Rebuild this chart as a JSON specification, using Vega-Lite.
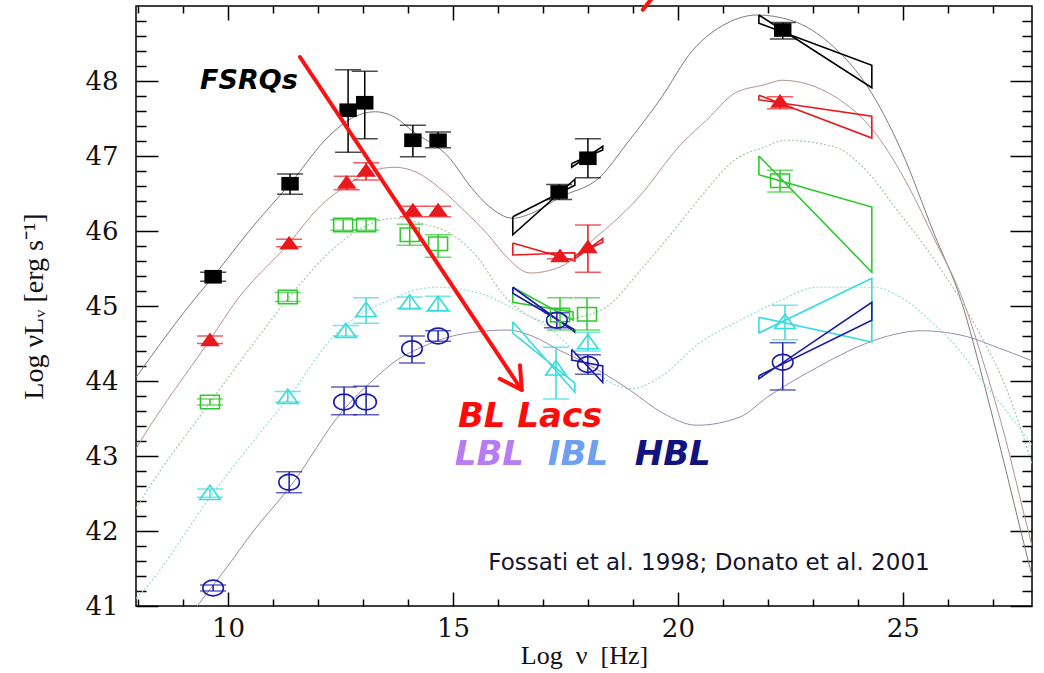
{
  "$schema": "https://vega.github.io/schema/vega-lite/v6.json",
  "width": 896,
  "height": 600,
  "autosize": {"type": "none"},
  "padding": {"left": 136, "top": 6, "right": 12, "bottom": 67},
  "background": "white",
  "config": {
    "view": {"stroke": "#000000", "strokeWidth": 1.5},
    "axis": {"grid": false, "domain": false, "tickColor": "#000000", "tickWidth": 1.5, "labelColor": "#111111", "titleColor": "#111111", "labelFont": "DejaVu Serif", "labelFontSize": 26, "titleFont": "Liberation Serif", "titleFontSize": 26, "titleFontWeight": "normal"}
  },
  "datasets": {
    "curves": [
      {"s":"bin1","x":7.96,"y":44.05},{"s":"bin1","x":8.5,"y":44.5},{"s":"bin1","x":9.24,"y":45.08},{"s":"bin1","x":9.67,"y":45.39},{"s":"bin1","x":10.5,"y":46.02},{"s":"bin1","x":11.38,"y":46.63},{"s":"bin1","x":12.27,"y":47.28},{"s":"bin1","x":12.8,"y":47.52},{"s":"bin1","x":13.27,"y":47.59},{"s":"bin1","x":13.7,"y":47.52},{"s":"bin1","x":14.11,"y":47.33},{"s":"bin1","x":14.93,"y":46.97},{"s":"bin1","x":15.38,"y":46.6},{"s":"bin1","x":15.8,"y":46.33},{"s":"bin1","x":16.33,"y":46.17},{"s":"bin1","x":16.8,"y":46.25},{"s":"bin1","x":17.38,"y":46.45},{"s":"bin1","x":18.27,"y":46.72},{"s":"bin1","x":18.87,"y":47.17},{"s":"bin1","x":19.6,"y":47.75},{"s":"bin1","x":20.33,"y":48.41},{"s":"bin1","x":21.09,"y":48.77},{"s":"bin1","x":21.76,"y":48.88},{"s":"bin1","x":22.51,"y":48.81},{"s":"bin1","x":23.47,"y":48.45},{"s":"bin1","x":24.22,"y":47.92},{"s":"bin1","x":24.96,"y":47.08},{"s":"bin1","x":25.69,"y":45.97},{"s":"bin1","x":26.29,"y":45.08},{"s":"bin1","x":26.84,"y":43.88},{"s":"bin1","x":27.29,"y":42.81},{"s":"bin1","x":27.67,"y":41.88},{"s":"bin1","x":27.87,"y":41.4},
      {"s":"bin2","x":7.96,"y":43.1},{"s":"bin2","x":8.07,"y":43.21},{"s":"bin2","x":9.6,"y":44.55},{"s":"bin2","x":10.2,"y":45.08},{"s":"bin2","x":11.36,"y":45.84},{"s":"bin2","x":12.0,"y":46.3},{"s":"bin2","x":12.67,"y":46.62},{"s":"bin2","x":13.2,"y":46.8},{"s":"bin2","x":13.71,"y":46.85},{"s":"bin2","x":14.2,"y":46.78},{"s":"bin2","x":14.67,"y":46.59},{"s":"bin2","x":15.2,"y":46.3},{"s":"bin2","x":15.78,"y":45.95},{"s":"bin2","x":16.2,"y":45.65},{"s":"bin2","x":16.71,"y":45.44},{"s":"bin2","x":17.38,"y":45.52},{"s":"bin2","x":18.11,"y":45.88},{"s":"bin2","x":19.1,"y":46.43},{"s":"bin2","x":20.09,"y":47.17},{"s":"bin2","x":20.64,"y":47.48},{"s":"bin2","x":21.27,"y":47.84},{"s":"bin2","x":21.93,"y":47.95},{"s":"bin2","x":22.31,"y":48.01},{"s":"bin2","x":23.49,"y":47.79},{"s":"bin2","x":24.38,"y":47.31},{"s":"bin2","x":25.13,"y":46.59},{"s":"bin2","x":25.71,"y":45.88},{"s":"bin2","x":26.29,"y":45.15},{"s":"bin2","x":26.84,"y":44.15},{"s":"bin2","x":27.29,"y":43.21},{"s":"bin2","x":27.67,"y":42.28},{"s":"bin2","x":27.87,"y":41.8},
      {"s":"bin3","x":7.96,"y":42.3},{"s":"bin3","x":8.07,"y":42.41},{"s":"bin3","x":9.6,"y":43.71},{"s":"bin3","x":10.58,"y":44.51},{"s":"bin3","x":11.31,"y":45.08},{"s":"bin3","x":12.49,"y":45.84},{"s":"bin3","x":13.1,"y":46.08},{"s":"bin3","x":13.76,"y":46.17},{"s":"bin3","x":14.3,"y":46.1},{"s":"bin3","x":14.93,"y":45.97},{"s":"bin3","x":15.6,"y":45.61},{"s":"bin3","x":16.04,"y":45.21},{"s":"bin3","x":16.6,"y":44.9},{"s":"bin3","x":17.2,"y":44.78},{"s":"bin3","x":17.8,"y":44.85},{"s":"bin3","x":18.42,"y":44.99},{"s":"bin3","x":19.2,"y":45.5},{"s":"bin3","x":19.9,"y":46.0},{"s":"bin3","x":20.5,"y":46.45},{"s":"bin3","x":21.27,"y":46.95},{"s":"bin3","x":21.93,"y":47.12},{"s":"bin3","x":22.38,"y":47.21},{"s":"bin3","x":23.49,"y":47.12},{"s":"bin3","x":24.24,"y":46.77},{"s":"bin3","x":24.82,"y":46.32},{"s":"bin3","x":25.71,"y":45.61},{"s":"bin3","x":26.71,"y":44.63},{"s":"bin3","x":27.3,"y":43.9},{"s":"bin3","x":27.87,"y":42.9},
      {"s":"bin4","x":7.96,"y":41.1},{"s":"bin4","x":8.13,"y":41.21},{"s":"bin4","x":9.6,"y":42.45},{"s":"bin4","x":10.58,"y":43.21},{"s":"bin4","x":11.31,"y":43.75},{"s":"bin4","x":12.42,"y":44.64},{"s":"bin4","x":13.0,"y":44.91},{"s":"bin4","x":13.6,"y":45.08},{"s":"bin4","x":14.2,"y":45.22},{"s":"bin4","x":14.71,"y":45.25},{"s":"bin4","x":15.2,"y":45.22},{"s":"bin4","x":15.6,"y":45.17},{"s":"bin4","x":16.4,"y":44.95},{"s":"bin4","x":17.1,"y":44.72},{"s":"bin4","x":17.8,"y":44.35},{"s":"bin4","x":18.5,"y":43.98},{"s":"bin4","x":19.0,"y":43.9},{"s":"bin4","x":19.6,"y":44.05},{"s":"bin4","x":20.49,"y":44.51},{"s":"bin4","x":21.38,"y":44.81},{"s":"bin4","x":22.2,"y":45.05},{"s":"bin4","x":23.09,"y":45.25},{"s":"bin4","x":24.33,"y":45.25},{"s":"bin4","x":25.0,"y":45.1},{"s":"bin4","x":25.67,"y":44.77},{"s":"bin4","x":26.2,"y":44.45},{"s":"bin4","x":26.8,"y":43.97},{"s":"bin4","x":27.3,"y":43.6},{"s":"bin4","x":27.87,"y":43.15},
      {"s":"bin5","x":9.25,"y":40.95},{"s":"bin5","x":9.98,"y":41.52},{"s":"bin5","x":10.58,"y":42.01},{"s":"bin5","x":11.38,"y":42.59},{"s":"bin5","x":12.56,"y":43.61},{"s":"bin5","x":13.2,"y":44.0},{"s":"bin5","x":13.76,"y":44.28},{"s":"bin5","x":14.3,"y":44.45},{"s":"bin5","x":14.93,"y":44.59},{"s":"bin5","x":15.6,"y":44.66},{"s":"bin5","x":16.2,"y":44.68},{"s":"bin5","x":16.76,"y":44.6},{"s":"bin5","x":17.4,"y":44.4},{"s":"bin5","x":17.82,"y":44.28},{"s":"bin5","x":18.3,"y":44.12},{"s":"bin5","x":18.93,"y":43.88},{"s":"bin5","x":19.67,"y":43.57},{"s":"bin5","x":20.42,"y":43.41},{"s":"bin5","x":21.38,"y":43.52},{"s":"bin5","x":22.0,"y":43.79},{"s":"bin5","x":23.0,"y":44.15},{"s":"bin5","x":24.22,"y":44.51},{"s":"bin5","x":24.8,"y":44.62},{"s":"bin5","x":25.4,"y":44.67},{"s":"bin5","x":26.44,"y":44.59},{"s":"bin5","x":27.0,"y":44.47},{"s":"bin5","x":27.87,"y":44.27}
    ],
    "pts": [
      {"s":"bin1","x":9.67,"y":45.39,"lo":45.33,"hi":45.45},{"s":"bin1","x":11.38,"y":46.63,"lo":46.49,"hi":46.76},{"s":"bin1","x":12.67,"y":47.61,"lo":47.05,"hi":48.15},{"s":"bin1","x":13.04,"y":47.71,"lo":47.23,"hi":48.13},{"s":"bin1","x":14.11,"y":47.21,"lo":46.99,"hi":47.41},{"s":"bin1","x":14.67,"y":47.21,"lo":47.11,"hi":47.32},{"s":"bin1","x":17.36,"y":46.52,"lo":46.42,"hi":46.62},{"s":"bin1","x":18.0,"y":46.97,"lo":46.71,"hi":47.23},{"s":"bin1","x":22.33,"y":48.68,"lo":48.56,"hi":48.78},
      {"s":"bin2","x":9.6,"y":44.55,"lo":44.5,"hi":44.6},{"s":"bin2","x":11.36,"y":45.84,"lo":45.79,"hi":45.89},{"s":"bin2","x":12.64,"y":46.65,"lo":46.55,"hi":46.73},{"s":"bin2","x":13.07,"y":46.81,"lo":46.68,"hi":46.91},{"s":"bin2","x":14.11,"y":46.28,"lo":46.19,"hi":46.33},{"s":"bin2","x":14.67,"y":46.28,"lo":46.19,"hi":46.33},{"s":"bin2","x":17.38,"y":45.67,"lo":45.63,"hi":45.71},{"s":"bin2","x":18.0,"y":45.79,"lo":45.45,"hi":46.08},{"s":"bin2","x":22.27,"y":47.73,"lo":47.63,"hi":47.79},
      {"s":"bin3","x":9.6,"y":43.72,"lo":43.68,"hi":43.76},{"s":"bin3","x":11.33,"y":45.12,"lo":45.06,"hi":45.18},{"s":"bin3","x":12.56,"y":46.08,"lo":46.01,"hi":46.15},{"s":"bin3","x":13.07,"y":46.08,"lo":46.01,"hi":46.15},{"s":"bin3","x":14.04,"y":45.95,"lo":45.81,"hi":46.09},{"s":"bin3","x":14.67,"y":45.83,"lo":45.65,"hi":45.95},{"s":"bin3","x":17.38,"y":44.88,"lo":44.68,"hi":45.11},{"s":"bin3","x":17.98,"y":44.89,"lo":44.68,"hi":45.11},{"s":"bin3","x":22.27,"y":46.67,"lo":46.52,"hi":46.81},
      {"s":"bin4","x":9.6,"y":42.51,"lo":42.45,"hi":42.56},{"s":"bin4","x":11.33,"y":43.79,"lo":43.72,"hi":43.86},{"s":"bin4","x":12.62,"y":44.67,"lo":44.6,"hi":44.74},{"s":"bin4","x":13.07,"y":44.95,"lo":44.77,"hi":45.11},{"s":"bin4","x":14.04,"y":45.05,"lo":44.97,"hi":45.12},{"s":"bin4","x":14.67,"y":45.03,"lo":44.93,"hi":45.13},{"s":"bin4","x":17.29,"y":44.17,"lo":43.76,"hi":44.45},{"s":"bin4","x":18.0,"y":44.52,"lo":44.4,"hi":44.65},{"s":"bin4","x":22.38,"y":44.79,"lo":44.55,"hi":45.01},
      {"s":"bin5","x":9.67,"y":41.24,"lo":41.2,"hi":41.28},{"s":"bin5","x":11.36,"y":42.65,"lo":42.51,"hi":42.79},{"s":"bin5","x":12.58,"y":43.72,"lo":43.55,"hi":43.92},{"s":"bin5","x":13.07,"y":43.72,"lo":43.55,"hi":43.93},{"s":"bin5","x":14.09,"y":44.43,"lo":44.24,"hi":44.6},{"s":"bin5","x":14.67,"y":44.6,"lo":44.53,"hi":44.67},{"s":"bin5","x":17.31,"y":44.81,"lo":44.71,"hi":44.91},{"s":"bin5","x":18.0,"y":44.22,"lo":44.09,"hi":44.35},{"s":"bin5","x":22.33,"y":44.25,"lo":43.88,"hi":44.51}
    ],
    "bows": [
      {"id":"g1","s":"bin1","i":0,"x":21.8,"y":48.88},{"id":"g1","s":"bin1","i":1,"x":24.31,"y":47.91},{"id":"g1","s":"bin1","i":2,"x":24.31,"y":48.21},{"id":"g1","s":"bin1","i":3,"x":21.8,"y":48.77},{"id":"g1","s":"bin1","i":4,"x":21.8,"y":48.88},
      {"id":"g2","s":"bin2","i":0,"x":21.8,"y":47.81},{"id":"g2","s":"bin2","i":1,"x":24.31,"y":47.24},{"id":"g2","s":"bin2","i":2,"x":24.31,"y":47.53},{"id":"g2","s":"bin2","i":3,"x":21.8,"y":47.75},{"id":"g2","s":"bin2","i":4,"x":21.8,"y":47.81},
      {"id":"g3","s":"bin3","i":0,"x":21.8,"y":47.0},{"id":"g3","s":"bin3","i":1,"x":24.31,"y":45.45},{"id":"g3","s":"bin3","i":2,"x":24.31,"y":46.32},{"id":"g3","s":"bin3","i":3,"x":21.8,"y":46.75},{"id":"g3","s":"bin3","i":4,"x":21.8,"y":47.0},
      {"id":"g4","s":"bin4","i":0,"x":21.8,"y":44.85},{"id":"g4","s":"bin4","i":1,"x":24.31,"y":44.52},{"id":"g4","s":"bin4","i":2,"x":24.31,"y":45.37},{"id":"g4","s":"bin4","i":3,"x":21.8,"y":44.64},{"id":"g4","s":"bin4","i":4,"x":21.8,"y":44.85},
      {"id":"g5","s":"bin5","i":0,"x":21.8,"y":44.07},{"id":"g5","s":"bin5","i":1,"x":24.31,"y":44.81},{"id":"g5","s":"bin5","i":2,"x":24.31,"y":45.05},{"id":"g5","s":"bin5","i":3,"x":21.8,"y":44.03},{"id":"g5","s":"bin5","i":4,"x":21.8,"y":44.07},
      {"id":"x1","s":"bin1","i":0,"x":16.33,"y":46.19},{"id":"x1","s":"bin1","i":1,"x":17.71,"y":46.61},{"id":"x1","s":"bin1","i":2,"x":17.71,"y":46.69},{"id":"x1","s":"bin1","i":3,"x":16.33,"y":45.95},{"id":"x1","s":"bin1","i":4,"x":16.33,"y":46.19},
      {"id":"x1b","s":"bin1","i":0,"x":17.64,"y":46.9},{"id":"x1b","s":"bin1","i":1,"x":18.33,"y":47.08},{"id":"x1b","s":"bin1","i":2,"x":18.33,"y":47.13},{"id":"x1b","s":"bin1","i":3,"x":17.64,"y":46.85},{"id":"x1b","s":"bin1","i":4,"x":17.64,"y":46.9},
      {"id":"x2","s":"bin2","i":0,"x":16.33,"y":45.84},{"id":"x2","s":"bin2","i":1,"x":17.71,"y":45.6},{"id":"x2","s":"bin2","i":2,"x":17.71,"y":45.71},{"id":"x2","s":"bin2","i":3,"x":16.33,"y":45.68},{"id":"x2","s":"bin2","i":4,"x":16.33,"y":45.84},
      {"id":"x2b","s":"bin2","i":0,"x":17.71,"y":45.67},{"id":"x2b","s":"bin2","i":1,"x":18.33,"y":45.85},{"id":"x2b","s":"bin2","i":2,"x":18.33,"y":45.9},{"id":"x2b","s":"bin2","i":3,"x":17.71,"y":45.63},{"id":"x2b","s":"bin2","i":4,"x":17.71,"y":45.67},
      {"id":"x3","s":"bin3","i":0,"x":16.33,"y":45.25},{"id":"x3","s":"bin3","i":1,"x":17.67,"y":44.81},{"id":"x3","s":"bin3","i":2,"x":17.67,"y":44.92},{"id":"x3","s":"bin3","i":3,"x":16.33,"y":45.05},{"id":"x3","s":"bin3","i":4,"x":16.33,"y":45.25},
      {"id":"x4","s":"bin4","i":0,"x":16.33,"y":44.79},{"id":"x4","s":"bin4","i":1,"x":17.71,"y":43.85},{"id":"x4","s":"bin4","i":2,"x":17.71,"y":43.97},{"id":"x4","s":"bin4","i":3,"x":16.33,"y":44.64},{"id":"x4","s":"bin4","i":4,"x":16.33,"y":44.79},
      {"id":"x5","s":"bin5","i":0,"x":16.33,"y":45.25},{"id":"x5","s":"bin5","i":1,"x":17.71,"y":44.65},{"id":"x5","s":"bin5","i":2,"x":17.71,"y":44.68},{"id":"x5","s":"bin5","i":3,"x":16.33,"y":45.17},{"id":"x5","s":"bin5","i":4,"x":16.33,"y":45.25},
      {"id":"x5b","s":"bin5","i":0,"x":17.64,"y":44.42},{"id":"x5b","s":"bin5","i":1,"x":18.33,"y":43.98},{"id":"x5b","s":"bin5","i":2,"x":18.33,"y":44.2},{"id":"x5b","s":"bin5","i":3,"x":17.64,"y":44.28},{"id":"x5b","s":"bin5","i":4,"x":17.64,"y":44.42}
    ],
    "arrow": [
      {"seg":"shaft","i":0,"x":11.6,"y":48.32},{"seg":"shaft","i":1,"x":16.53,"y":43.88},
      {"seg":"head","i":0,"x":16.49,"y":44.21},{"seg":"head","i":1,"x":16.53,"y":43.88},{"seg":"head","i":2,"x":16.04,"y":44.03},
      {"seg":"top","i":0,"x":19.22,"y":48.95},{"seg":"top","i":1,"x":19.42,"y":49.1}
    ],
    "labels": [
      {"k":"fsrq","t":"FSRQs","x":9.38,"y":48.0},
      {"k":"bllac","t":"BL Lacs","x":15.11,"y":43.52},
      {"k":"lbl","t":"LBL","x":15.04,"y":43.01},
      {"k":"ibl","t":"IBL","x":17.11,"y":43.01},
      {"k":"hbl","t":"HBL","x":19.04,"y":43.01},
      {"k":"ref","t":"Fossati et al. 1998; Donato et al. 2001","x":20.69,"y":41.57}
    ]
  },
  "resolve": {"axis": {"x": "independent", "y": "independent"}},
  "layer": [
    {
      "data": {"name": "curves"},
      "transform": [{"filter": "datum.s === 'bin1'"}],
      "mark": {"type": "line", "color": "#7c7c7c", "strokeWidth": 1, "interpolate": "monotone", "clip": true},
      "encoding": {
        "x": {"field": "x", "type": "quantitative", "scale": {"domain": [7.956, 27.87], "nice": false, "zero": false},
              "axis": {"orient": "bottom", "values": [10, 15, 20, 25], "format": "d", "offset": -14, "tickSize": 14, "labelPadding": 9, "title": "Log \u00a0ν\u00a0 [Hz]", "titlePadding": 1}},
        "y": {"field": "y", "type": "quantitative", "scale": {"domain": [41, 49], "nice": false, "zero": false},
              "axis": {"orient": "left", "values": [41, 42, 43, 44, 45, 46, 47, 48], "format": "d", "offset": -22, "tickSize": 22, "labelPadding": 18, "title": "Log νLᵥ [erg s⁻¹]", "titleFontSize": 28, "titlePadding": 36}}
      }
    },
    {
      "data": {"name": "curves"},
      "transform": [{"filter": "datum.s === 'bin2'"}],
      "mark": {"type": "line", "color": "#b89090", "strokeWidth": 1, "interpolate": "monotone", "clip": true},
      "encoding": {
        "x": {"field": "x", "type": "quantitative", "scale": {"domain": [7.956, 27.87], "nice": false, "zero": false},
              "axis": {"orient": "bottom", "values": [8, 9, 11, 12, 13, 14, 16, 17, 18, 19, 21, 22, 23, 24, 26, 27], "offset": -7, "tickSize": 7, "labels": false, "title": null}},
        "y": {"field": "y", "type": "quantitative", "scale": {"domain": [41, 49], "nice": false, "zero": false},
              "axis": {"orient": "left", "values": [41.2, 41.4, 41.6, 41.8, 42.2, 42.4, 42.6, 42.8, 43.2, 43.4, 43.6, 43.8, 44.2, 44.4, 44.6, 44.8, 45.2, 45.4, 45.6, 45.8, 46.2, 46.4, 46.6, 46.8, 47.2, 47.4, 47.6, 47.8, 48.2, 48.4, 48.6, 48.8], "offset": -10, "tickSize": 10, "labels": false, "title": null}}
      }
    },
    {
      "data": {"name": "curves"},
      "transform": [{"filter": "datum.s === 'bin3'"}],
      "mark": {"type": "line", "color": "#a6c8a6", "strokeWidth": 1.2, "strokeDash": [2, 2], "interpolate": "monotone", "clip": true},
      "encoding": {
        "x": {"field": "x", "type": "quantitative", "scale": {"domain": [7.956, 27.87], "nice": false, "zero": false},
              "axis": {"orient": "top", "values": [10, 15, 20, 25], "offset": -14, "tickSize": 14, "labels": false, "title": null}},
        "y": {"field": "y", "type": "quantitative", "scale": {"domain": [41, 49], "nice": false, "zero": false},
              "axis": {"orient": "right", "values": [41, 42, 43, 44, 45, 46, 47, 48], "offset": -22, "tickSize": 22, "labels": false, "title": null}}
      }
    },
    {
      "data": {"name": "curves"},
      "transform": [{"filter": "datum.s === 'bin4'"}],
      "mark": {"type": "line", "color": "#95dede", "strokeWidth": 1.2, "strokeDash": [2, 2], "interpolate": "monotone", "clip": true},
      "encoding": {
        "x": {"field": "x", "type": "quantitative", "scale": {"domain": [7.956, 27.87], "nice": false, "zero": false},
              "axis": {"orient": "top", "values": [8, 9, 11, 12, 13, 14, 16, 17, 18, 19, 21, 22, 23, 24, 26, 27], "offset": -7, "tickSize": 7, "labels": false, "title": null}},
        "y": {"field": "y", "type": "quantitative", "scale": {"domain": [41, 49], "nice": false, "zero": false},
              "axis": {"orient": "right", "values": [41.2, 41.4, 41.6, 41.8, 42.2, 42.4, 42.6, 42.8, 43.2, 43.4, 43.6, 43.8, 44.2, 44.4, 44.6, 44.8, 45.2, 45.4, 45.6, 45.8, 46.2, 46.4, 46.6, 46.8, 47.2, 47.4, 47.6, 47.8, 48.2, 48.4, 48.6, 48.8], "offset": -10, "tickSize": 10, "labels": false, "title": null}}
      }
    },
    {
      "data": {"name": "curves"},
      "transform": [{"filter": "datum.s === 'bin5'"}],
      "mark": {"type": "line", "color": "#9a8aaa", "strokeWidth": 1, "interpolate": "monotone", "clip": true},
      "encoding": {
        "x": {"field": "x", "type": "quantitative", "axis": null},
        "y": {"field": "y", "type": "quantitative", "axis": null}
      }
    },
    {
      "data": {"name": "bows"},
      "mark": {"type": "line", "strokeWidth": 1.6},
      "encoding": {
        "x": {"field": "x", "type": "quantitative", "axis": null},
        "y": {"field": "y", "type": "quantitative", "axis": null},
        "detail": {"field": "id"},
        "order": {"field": "i", "type": "quantitative"},
        "color": {"field": "s", "type": "nominal", "legend": null, "scale": {"domain": ["bin1", "bin2", "bin3", "bin4", "bin5"], "range": ["#000000", "#e8181c", "#30c830", "#38dcdc", "#1c1ca8"]}}
      }
    },
    {
      "data": {"name": "pts"},
      "mark": {"type": "rule", "strokeWidth": 1.5},
      "encoding": {
        "x": {"field": "x", "type": "quantitative", "axis": null},
        "y": {"field": "lo", "type": "quantitative", "axis": null},
        "y2": {"field": "hi"},
        "color": {"field": "s", "type": "nominal", "legend": null}
      }
    },
    {
      "data": {"name": "pts"},
      "mark": {"type": "tick", "orient": "horizontal", "size": 26, "thickness": 1.5},
      "encoding": {
        "x": {"field": "x", "type": "quantitative", "axis": null},
        "y": {"field": "lo", "type": "quantitative", "axis": null},
        "color": {"field": "s", "type": "nominal", "legend": null}
      }
    },
    {
      "data": {"name": "pts"},
      "mark": {"type": "tick", "orient": "horizontal", "size": 26, "thickness": 1.5},
      "encoding": {
        "x": {"field": "x", "type": "quantitative", "axis": null},
        "y": {"field": "hi", "type": "quantitative", "axis": null},
        "color": {"field": "s", "type": "nominal", "legend": null}
      }
    },
    {
      "data": {"name": "pts"},
      "transform": [{"filter": "datum.s === 'bin1' || datum.s === 'bin2'"}],
      "mark": {"type": "point", "filled": true, "opacity": 1, "size": 230},
      "encoding": {
        "x": {"field": "x", "type": "quantitative", "axis": null},
        "y": {"field": "y", "type": "quantitative", "axis": null},
        "color": {"field": "s", "type": "nominal", "legend": null},
        "shape": {"field": "s", "type": "nominal", "legend": null, "scale": {"domain": ["bin1", "bin2", "bin3", "bin4", "bin5"], "range": ["M-1.15,-0.9H1.15V0.9H-1.15Z", "M0,-0.95L1.3,0.85H-1.3Z", "M-1.2,-0.85H1.2V0.85H-1.2Z", "M0,-0.95L1.3,0.85H-1.3Z", "M-1.3,0A1.3,1,0,1,1,1.3,0A1.3,1,0,1,1,-1.3,0Z"]}}
      }
    },
    {
      "data": {"name": "pts"},
      "transform": [{"filter": "datum.s === 'bin3' || datum.s === 'bin4' || datum.s === 'bin5'"}],
      "mark": {"type": "point", "filled": false, "opacity": 1, "size": 250, "strokeWidth": 1.6},
      "encoding": {
        "x": {"field": "x", "type": "quantitative", "axis": null},
        "y": {"field": "y", "type": "quantitative", "axis": null},
        "color": {"field": "s", "type": "nominal", "legend": null},
        "shape": {"field": "s", "type": "nominal", "legend": null}
      }
    },
    {
      "data": {"name": "arrow"},
      "mark": {"type": "line", "color": "#ff1010", "strokeWidth": 4, "strokeCap": "round", "strokeJoin": "round"},
      "encoding": {
        "x": {"field": "x", "type": "quantitative", "axis": null},
        "y": {"field": "y", "type": "quantitative", "axis": null},
        "detail": {"field": "seg"},
        "order": {"field": "i", "type": "quantitative"}
      }
    },
    {
      "data": {"name": "labels"},
      "transform": [{"filter": "datum.k === 'fsrq'"}],
      "mark": {"type": "text", "align": "left", "baseline": "middle", "font": "DejaVu Sans", "fontSize": 27, "fontWeight": "bold", "fontStyle": "italic", "color": "#000000"},
      "encoding": {"x": {"field": "x", "type": "quantitative", "axis": null}, "y": {"field": "y", "type": "quantitative", "axis": null}, "text": {"field": "t"}}
    },
    {
      "data": {"name": "labels"},
      "transform": [{"filter": "datum.k === 'bllac'"}],
      "mark": {"type": "text", "align": "left", "baseline": "middle", "font": "DejaVu Sans", "fontSize": 34, "fontWeight": "bold", "fontStyle": "italic", "color": "#ff0a0a"},
      "encoding": {"x": {"field": "x", "type": "quantitative", "axis": null}, "y": {"field": "y", "type": "quantitative", "axis": null}, "text": {"field": "t"}}
    },
    {
      "data": {"name": "labels"},
      "transform": [{"filter": "datum.k === 'lbl'"}],
      "mark": {"type": "text", "align": "left", "baseline": "middle", "font": "DejaVu Sans", "fontSize": 34, "fontWeight": "bold", "fontStyle": "italic", "color": "#b77cf2"},
      "encoding": {"x": {"field": "x", "type": "quantitative", "axis": null}, "y": {"field": "y", "type": "quantitative", "axis": null}, "text": {"field": "t"}}
    },
    {
      "data": {"name": "labels"},
      "transform": [{"filter": "datum.k === 'ibl'"}],
      "mark": {"type": "text", "align": "left", "baseline": "middle", "font": "DejaVu Sans", "fontSize": 34, "fontWeight": "bold", "fontStyle": "italic", "color": "#6f9ff0"},
      "encoding": {"x": {"field": "x", "type": "quantitative", "axis": null}, "y": {"field": "y", "type": "quantitative", "axis": null}, "text": {"field": "t"}}
    },
    {
      "data": {"name": "labels"},
      "transform": [{"filter": "datum.k === 'hbl'"}],
      "mark": {"type": "text", "align": "left", "baseline": "middle", "font": "DejaVu Sans", "fontSize": 34, "fontWeight": "bold", "fontStyle": "italic", "color": "#121280"},
      "encoding": {"x": {"field": "x", "type": "quantitative", "axis": null}, "y": {"field": "y", "type": "quantitative", "axis": null}, "text": {"field": "t"}}
    },
    {
      "data": {"name": "labels"},
      "transform": [{"filter": "datum.k === 'ref'"}],
      "mark": {"type": "text", "align": "center", "baseline": "middle", "font": "DejaVu Sans", "fontSize": 23, "color": "#151530"},
      "encoding": {"x": {"field": "x", "type": "quantitative", "axis": null}, "y": {"field": "y", "type": "quantitative", "axis": null}, "text": {"field": "t"}}
    }
  ]
}
